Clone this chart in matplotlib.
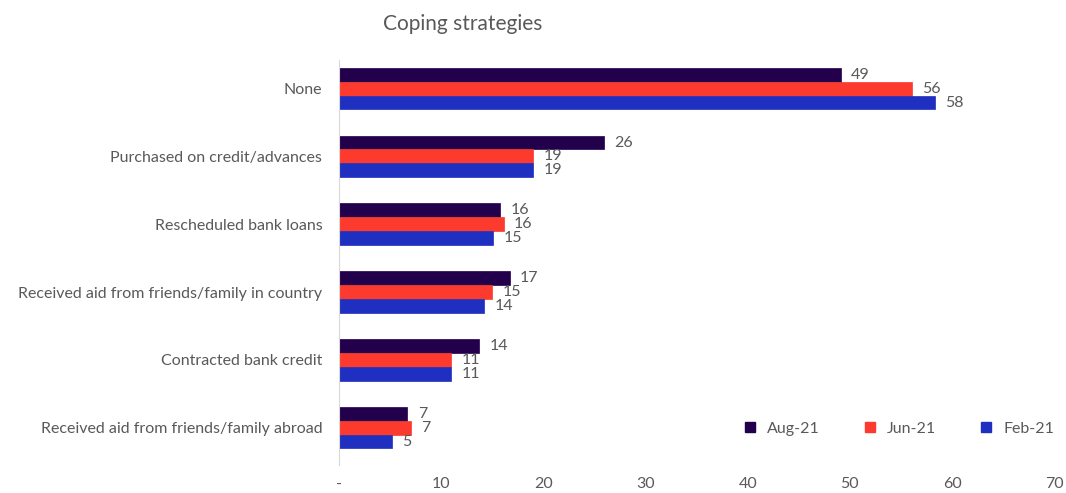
import numpy as np
import matplotlib.pyplot as plt
from matplotlib.lines import Line2D

categories = [
    "None",
    "Purchased on credit/advances",
    "Rescheduled bank loans",
    "Received aid from friends/family in country",
    "Contracted bank credit",
    "Received aid from friends/family abroad",
]
aug21 = [49.1, 25.9, 15.8, 16.7, 13.7, 6.7]
jun21 = [56.1, 19.0, 16.1, 15.0, 11.0, 7.0]
feb21 = [58.3, 19.0, 15.1, 14.2, 11.0, 5.2]
series = ["Aug-21", "Jun-21", "Feb-21"]
colors = ["#22004C", "#FC3A2E", "#1F2FBF"]
xticks = [0, 10, 20, 30, 40, 50, 60, 70]
xticklabels = ["-", "10", "20", "30", "40", "50", "60", "70"]

text_color = "#595959"
fs = 11.5
plt.rcParams["font.family"] = ["Lato", "DejaVu Sans"]

fig = plt.figure(figsize=(10.66, 4.93), dpi=100)
ax = fig.add_axes([0.318, 0.057, 0.671, 0.821])

y = np.arange(len(categories))
h = 0.205
for i, (vals, c) in enumerate(zip([aug21, jun21, feb21], colors)):
    pos = y + (i - 1) * h
    ax.barh(pos, vals, height=h, color=c, edgecolor=c, linewidth=0.5)
    for yy, v in zip(pos, vals):
        ax.text(v + 1.0, yy, f"{v:.0f}", va="center", ha="left",
                fontsize=fs, color=text_color)

ax.set_ylim(5.55, -0.42)
ax.set_xlim(0, 70)
ax.set_yticks(y)
ax.set_yticklabels(categories, fontsize=fs, color=text_color)
ax.set_xticks(xticks)
ax.set_xticklabels(xticklabels, fontsize=fs, color=text_color)
ax.tick_params(axis="both", length=0)
ax.tick_params(axis="x", pad=9)
ax.tick_params(axis="y", pad=12)
for side in ["top", "right", "bottom"]:
    ax.spines[side].set_visible(False)
ax.spines["left"].set_color("#D9D9D9")

handles = [Line2D([], [], marker="s", linestyle="none", markersize=7,
                  markerfacecolor=c, markeredgecolor=c) for c in colors]
ax.legend(handles, series, loc="center right", bbox_to_anchor=(1.0, 0.09),
          ncol=3, frameon=False, fontsize=fs, labelcolor=text_color,
          handletextpad=0.1, columnspacing=2.1, borderaxespad=0, borderpad=0)

fig.text(0.434, 0.952, "Coping strategies", ha="center", va="center",
         fontsize=15, color=text_color)

fig.savefig("out.png", dpi=100)
